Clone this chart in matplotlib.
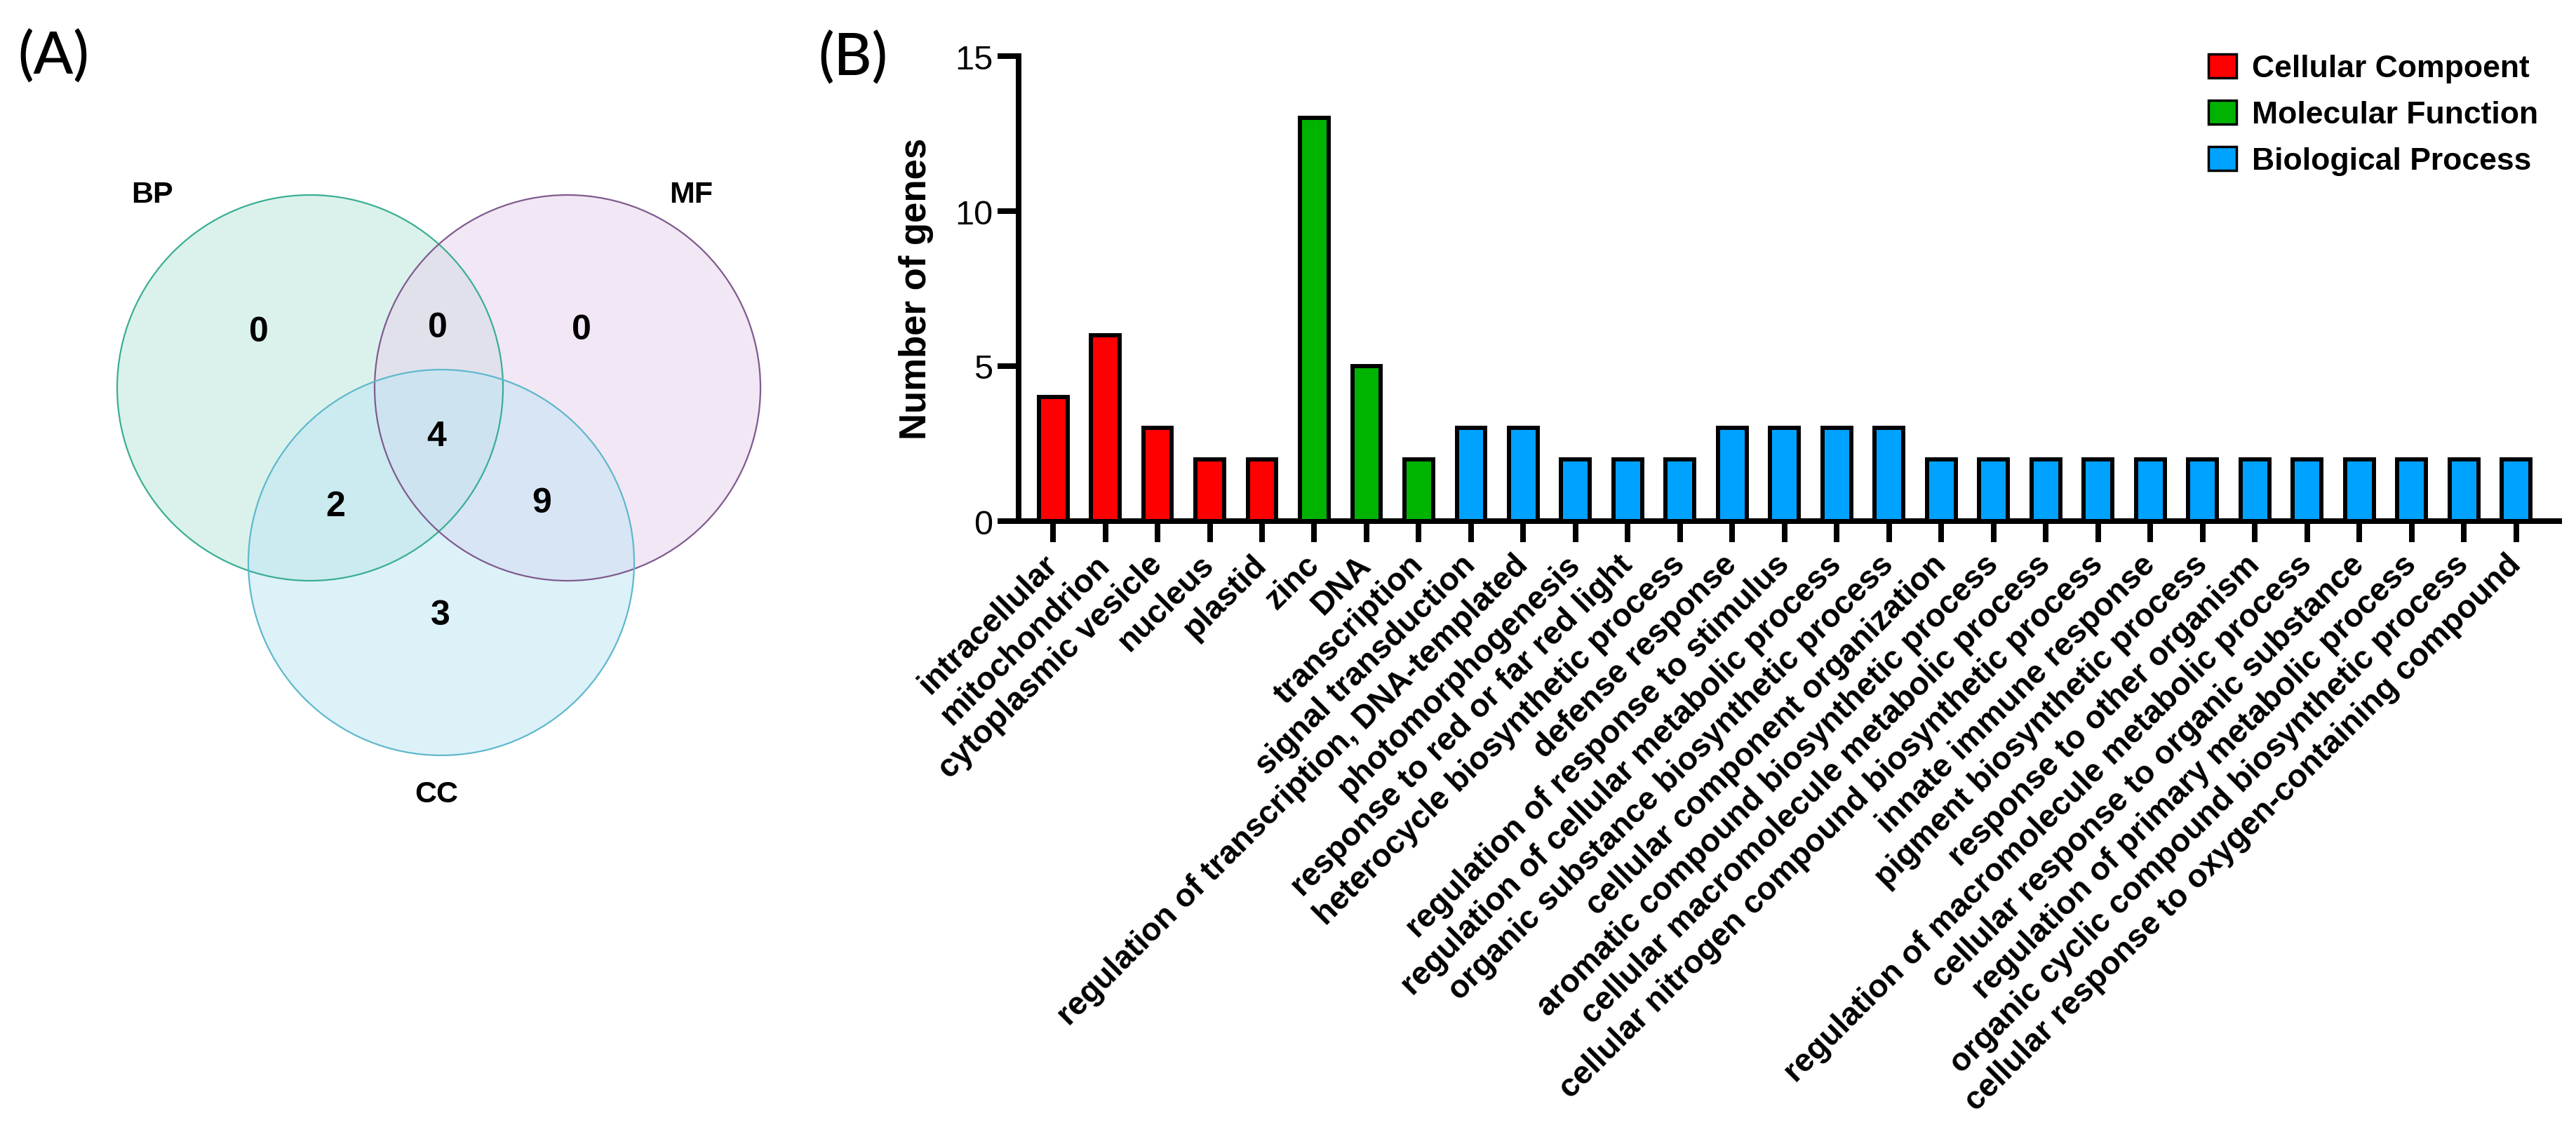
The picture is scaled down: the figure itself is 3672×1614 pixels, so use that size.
import matplotlib
matplotlib.use('Agg')
import matplotlib.pyplot as plt
from matplotlib.patches import Circle, Patch

# ---------------- data ----------------
categories = [
    'intracellular', 'mitochondrion', 'cytoplasmic vesicle', 'nucleus', 'plastid',
    'zinc', 'DNA', 'transcription',
    'signal transduction', 'regulation of transcription, DNA-templated',
    'photomorphogenesis', 'response to red or far red light',
    'heterocycle biosynthetic process', 'defense response',
    'regulation of response to stimulus', 'regulation of cellular metabolic process',
    'organic substance biosynthetic process', 'cellular component organization',
    'aromatic compound biosynthetic process', 'cellular macromolecule metabolic process',
    'cellular nitrogen compound biosynthetic process', 'innate immune response',
    'pigment biosynthetic process', 'response to other organism',
    'regulation of macromolecule metabolic process', 'cellular response to organic substance',
    'regulation of primary metabolic process', 'organic cyclic compound biosynthetic process',
    'cellular response to oxygen-containing compound',
]
counts = [4, 6, 3, 2, 2,
          13, 5, 2,
          3, 3, 2, 2, 2, 3, 3, 3, 3, 2, 2, 2, 2, 2, 2, 2, 2, 2, 2, 2, 2]
groups = ['CC'] * 5 + ['MF'] * 3 + ['BP'] * 21
group_order = ['CC', 'MF', 'BP']
group_names = {'CC': 'Cellular Compoent', 'MF': 'Molecular Function', 'BP': 'Biological Process'}
group_colors = {'CC': '#ff0000', 'MF': '#00b300', 'BP': '#00a2ff'}
y_ticks = [0, 5, 10, 15]

venn_sets = ['BP', 'MF', 'CC']
venn_regions = ['BP', 'BP&MF', 'MF', 'BP&MF&CC', 'BP&CC', 'MF&CC', 'CC']
venn_counts = [0, 0, 0, 4, 2, 9, 3]

# ---------------- layout (pixels) ----------------
W, H = 3673, 1615
circle_geom = {'BP': (442, 554, 275), 'MF': (809, 554, 275), 'CC': (629, 803, 275)}
circle_fill = {'BP': '#b9e7db', 'MF': '#e7d1eb', 'CC': '#bde5f5'}
circle_edge = {'BP': '#3aae94', 'MF': '#7f5b8f', 'CC': '#5fb8cc'}
set_label_pos = {'BP': (217, 278), 'MF': (985, 278), 'CC': (622, 1133)}
region_pos = {'BP': (369, 474), 'BP&MF': (624, 468), 'MF': (829, 471),
              'BP&MF&CC': (622, 623), 'BP&CC': (478, 723), 'MF&CC': (772, 718),
              'CC': (628, 878)}

FONT = 'Liberation Sans'
plt.rcParams['font.family'] = [FONT, 'DejaVu Sans']

fig = plt.figure(figsize=(W / 100, H / 100), dpi=100)

# ---------------- Venn panel ----------------
vax = fig.add_axes([0, 0, 1, 1])
vax.set_xlim(0, W)
vax.set_ylim(H, 0)
vax.axis('off')
for s in venn_sets:
    cx, cy, r = circle_geom[s]
    vax.add_patch(Circle((cx, cy), r, facecolor=circle_fill[s], alpha=0.5, edgecolor='none'))
for s in venn_sets:
    cx, cy, r = circle_geom[s]
    vax.add_patch(Circle((cx, cy), r, facecolor='none', edgecolor=circle_edge[s], linewidth=1.6))
for s in venn_sets:
    x, y = set_label_pos[s]
    vax.text(x, y, s, ha='center', va='center', fontsize=31, fontweight='bold')
for reg, n in zip(venn_regions, venn_counts):
    x, y = region_pos[reg]
    vax.text(x, y, str(n), ha='center', va='center', fontsize=36, fontweight='bold')

# ---------------- Bar panel ----------------
ax = fig.add_axes([1452 / W, 1 - 744 / H, (3648 - 1452) / W, (744 - 81) / H])
x = list(range(len(categories)))
colors = [group_colors[g] for g in groups]
ax.bar(x, counts, width=0.55, color=colors, edgecolor='black', linewidth=4.3, zorder=3)
ax.set_xlim(-0.658, 28.82)
ax.set_ylim(0, 15)
for sp in ['top', 'right']:
    ax.spines[sp].set_visible(False)
for sp in ['left', 'bottom']:
    ax.spines[sp].set_linewidth(5.76)
ax.set_yticks(y_ticks)
ax.set_yticklabels([str(t) for t in y_ticks], fontsize=35)
ax.tick_params(axis='y', length=21.6, width=5.76, pad=5)
ax.set_xticks(x)
ax.set_xticklabels(categories, rotation=45, ha='right', va='center',
                   rotation_mode='anchor', fontsize=33, fontweight='bold')
ax.tick_params(axis='x', length=21.6, width=5.76, pad=18)

fig.text(1306 / W, 1 - 412 / H, 'Number of genes', rotation=90, ha='center', va='center',
         fontsize=38, fontweight='bold')

handles = [Patch(facecolor=group_colors[g], edgecolor='black', linewidth=2.5,
                 label=group_names[g]) for g in group_order]
fig.legend(handles=handles, loc='upper left', bbox_to_anchor=(3148 / W, 1 - 78 / H),
           frameon=False, prop={'family': FONT, 'weight': 'bold', 'size': 32},
           handlelength=0.9, handleheight=0.8, handletextpad=0.5, labelspacing=0.55,
           borderpad=0, borderaxespad=0)

fig.text(25 / W, 1 - 82 / H, '(A)', fontsize=60, family=['Lato', 'DejaVu Sans'],
         fontweight='medium', ha='left', va='center')
fig.text(1166 / W, 1 - 84 / H, '(B)', fontsize=60, family=['Lato', 'DejaVu Sans'],
         fontweight='medium', ha='left', va='center')

fig.savefig('out.png', dpi=100)
